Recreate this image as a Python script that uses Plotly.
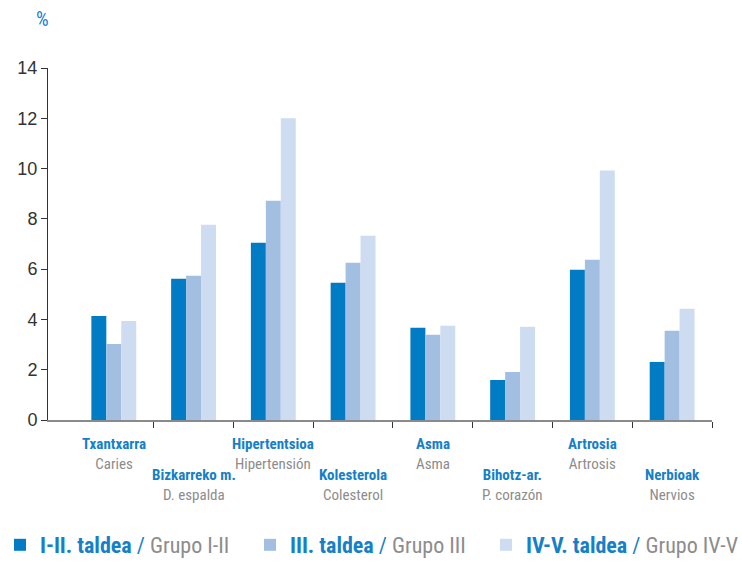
import plotly.graph_objects as go

categories_eu = ["Txantxarra", "Bizkarreko m.", "Hipertentsioa", "Kolesterola",
                 "Asma", "Bihotz-ar.", "Artrosia", "Nerbioak"]
categories_es = ["Caries", "D. espalda", "Hipertensión", "Colesterol",
                 "Asma", "P. corazón", "Artrosis", "Nervios"]
grupo_1_2 = [4.14, 5.62, 7.05, 5.46, 3.67, 1.59, 5.98, 2.31]
grupo_3 = [3.02, 5.74, 8.72, 6.25, 3.39, 1.91, 6.37, 3.55]
grupo_4_5 = [3.94, 7.77, 12.0, 7.33, 3.75, 3.71, 9.92, 4.42]
series_names_eu = ["I-II. taldea", "III. taldea", "IV-V. taldea"]
series_names_es = ["Grupo I-II", "Grupo III", "Grupo IV-V"]
y_ticks = [0, 2, 4, 6, 8, 10, 12, 14]

BLUE = "#1580c8"
GRAY = "#8c8c8c"
colors = ["#007bc4", "#a2bfe2", "#cddcf0"]
FONT = "Liberation Sans Narrow, Roboto Condensed, Arial Narrow, Liberation Sans, sans-serif"

xpos = list(range(len(categories_eu)))
legend_ids = ["legend", "legend2", "legend3"]
legend_x = [0 / 742, 250 / 742, 486 / 742]

fig = go.Figure()
for vals, eu, es, c, lg in zip([grupo_1_2, grupo_3, grupo_4_5], series_names_eu,
                               series_names_es, colors, legend_ids):
    fig.add_trace(go.Bar(
        x=xpos, y=vals, marker=dict(color=c, line=dict(width=0)),
        name=f"<b>{eu}</b> / <span style='color:{GRAY}'>{es}</span>",
        hoverinfo="y", legend=lg,
    ))

annotations = [dict(text="%", xref="paper", yref="paper", x=-0.008, y=1.14,
                    xanchor="center", yanchor="middle", showarrow=False,
                    font=dict(color=BLUE, size=20, family=FONT))]
for i, (eu, es) in enumerate(zip(categories_eu, categories_es)):
    yc = -0.098 if i % 2 == 0 else -0.186
    annotations.append(dict(text=f"<b>{eu}</b><br><span style='color:{GRAY}'>{es}</span>",
                            x=i, y=yc, xref="x", yref="paper",
                            showarrow=False, xanchor="center", yanchor="middle",
                            font=dict(color=BLUE, size=15, family=FONT)))

legend_common = dict(orientation="h", xref="container", yref="container",
                     y=0.0, xanchor="left", yanchor="bottom",
                     font=dict(color=BLUE, size=22, family=FONT),
                     itemclick=False, itemdoubleclick=False, bgcolor="rgba(0,0,0,0)")

fig.update_layout(
    width=742, height=566,
    margin=dict(l=48, r=30, t=68, b=146),
    paper_bgcolor="white", plot_bgcolor="white",
    barmode="group", bargap=0.4375, bargroupgap=0,
    font=dict(family=FONT),
    showlegend=True,
    legend=dict(x=legend_x[0], **legend_common),
    legend2=dict(x=legend_x[1], **legend_common),
    legend3=dict(x=legend_x[2], **legend_common),
    annotations=annotations,
)
fig.update_xaxes(range=[-0.825, 7.5], showgrid=False, zeroline=False,
                 showline=True, linecolor="#8a8a8a", linewidth=2,
                 tickvals=[0.5 + k for k in range(8)], showticklabels=False,
                 ticks="outside", ticklen=6, tickcolor="#333", tickwidth=1)
fig.update_yaxes(range=[0, 14], tickvals=y_ticks, showgrid=False, zeroline=False,
                 showline=True, linecolor="#333", linewidth=1,
                 ticks="outside", ticklen=6, tickcolor="#333",
                 tickfont=dict(size=18, color="#333", family="Liberation Sans, sans-serif"))

fig.write_html("out.html")
